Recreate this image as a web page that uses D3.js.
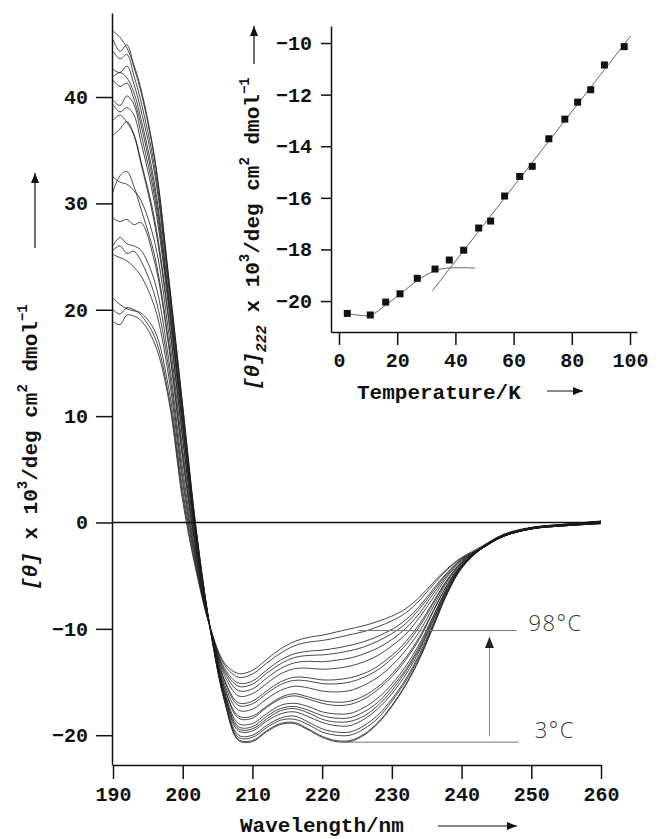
<!DOCTYPE html>
<head>
    <meta charset="utf-8">
    <title>CD spectra vs temperature</title>
    <style>
        body { margin: 0; background: #fff; }
        .axis text { font-family: "Liberation Mono", monospace; font-weight: bold; font-size: 20px; fill: #111; }
        .axis path, .axis line { stroke: #111; stroke-width: 1.5; }
        .label { font-family: "Liberation Mono", monospace; font-weight: bold; font-size: 21px; fill: #111; }
        .temp { font-family: "Open Sans", "Liberation Sans", sans-serif; font-weight: 300; font-size: 22px; fill: #333; letter-spacing: 1.5px; }
    </style>
</head>
<body>

<script src="https://d3js.org/d3.v7.min.js"></script>

<script>

    const width = 660;
    const height = 839;

    // wavelength grid (nm) the spectra were read at
    const wavelengths = [190,191,192,193,194,196,198,200,202,204,206,208,210,212,214,216,218,220,222,224,226,228,230,232,234,236,238,240,243,246,250,255,260];

    // mean residue ellipticity x 10^3, one array per temperature (3 -> 98 C)
    const s01 = [46.2,45.6,44.6,43.0,40.8,34.2,23.0,11.0,-1.0,-10.2,-16.8,-20.5,-20.6,-19.7,-19.0,-18.9,-19.5,-20.2,-20.6,-20.6,-20.0,-18.9,-17.3,-15.3,-12.8,-9.7,-6.6,-4.3,-2.3,-1.2,-0.5,-0.15,0.1];
    const s02 = [45.4,44.3,44.9,42.8,40.5,34.0,22.9,10.9,-1.0,-10.2,-16.8,-20.4,-20.5,-19.6,-18.9,-18.8,-19.4,-20.1,-20.5,-20.5,-19.9,-18.8,-17.2,-15.2,-12.7,-9.7,-6.6,-4.3,-2.4,-1.3,-0.6,-0.3,-0.1];
    const s03 = [44.3,43.6,44.0,42.0,39.6,33.3,22.4,10.5,-1.2,-10.2,-16.6,-20.2,-20.2,-19.3,-18.6,-18.5,-19.0,-19.7,-20.0,-20.0,-19.4,-18.4,-16.8,-14.9,-12.5,-9.5,-6.5,-4.25,-2.3,-1.2,-0.5,-0.2,0.1];
    const s04 = [42.6,42.3,42.9,41.2,38.8,32.7,22.0,10.2,-1.3,-10.2,-16.5,-20.0,-20.0,-19.1,-18.4,-18.2,-18.75,-19.4,-19.7,-19.7,-19.1,-18.1,-16.6,-14.7,-12.3,-9.35,-6.4,-4.2,-2.4,-1.3,-0.6,-0.25,0.0];
    const s05 = [41.9,42.3,41.8,40.4,38.0,31.7,21.3,9.7,-1.55,-10.2,-16.3,-19.6,-19.6,-18.7,-18.0,-17.8,-18.25,-18.8,-19.1,-19.1,-18.5,-17.5,-16.1,-14.3,-12.0,-9.1,-6.3,-4.15,-2.3,-1.2,-0.5,-0.15,0.1];
    const s06 = [41.6,41.0,41.3,39.8,37.4,31.1,20.9,9.4,-1.7,-10.15,-16.2,-19.4,-19.4,-18.5,-17.7,-17.5,-17.9,-18.5,-18.76,-18.7,-18.2,-17.2,-15.8,-14.0,-11.8,-9.0,-6.2,-4.1,-2.4,-1.3,-0.6,-0.3,-0.1];
    const s07 = [39.7,39.2,40.1,39.3,36.6,30.5,20.55,9.1,-1.8,-10.15,-16.0,-19.2,-19.2,-18.25,-17.5,-17.3,-17.65,-18.15,-18.4,-18.35,-17.8,-16.9,-15.5,-13.8,-11.6,-8.8,-6.1,-4.1,-2.3,-1.2,-0.5,-0.2,0.1];
    const s08 = [39.3,38.6,39.0,38.3,35.8,29.85,20.1,8.75,-1.95,-10.15,-15.9,-18.9,-18.9,-18.0,-17.2,-17.0,-17.3,-17.8,-18.0,-17.95,-17.4,-16.5,-15.2,-13.5,-11.35,-8.7,-6.0,-4.05,-2.4,-1.3,-0.6,-0.3,0.0];
    const s09 = [37.8,38.3,37.6,36.5,34.0,28.4,19.2,8.0,-2.3,-10.1,-15.6,-18.4,-18.4,-17.4,-16.6,-16.3,-16.6,-17.0,-17.2,-17.1,-16.6,-15.7,-14.5,-12.9,-10.9,-8.3,-5.8,-4.0,-2.3,-1.2,-0.5,-0.2,0.1];
    const s10 = [36.4,37.0,37.7,36.4,33.8,27.95,18.9,7.8,-2.4,-10.1,-15.5,-18.2,-18.2,-17.3,-16.45,-16.1,-16.4,-16.75,-16.9,-16.8,-16.3,-15.45,-14.25,-12.7,-10.7,-8.2,-5.8,-3.95,-2.4,-1.3,-0.6,-0.3,-0.1];
    const s11 = [32.5,32.0,31.8,31.2,30.3,26.3,17.8,6.9,-2.7,-10.1,-15.2,-17.65,-17.55,-16.6,-15.8,-15.4,-15.55,-15.85,-15.93,-15.8,-15.3,-14.55,-13.45,-12.0,-10.2,-7.85,-5.55,-3.85,-2.3,-1.2,-0.5,-0.2,0.1];
    const s12 = [31.1,32.6,33.0,31.6,29.5,25.0,16.9,6.3,-3.0,-10.1,-14.9,-17.2,-17.05,-16.1,-15.25,-14.85,-14.9,-15.15,-15.17,-15.0,-14.55,-13.85,-12.8,-11.5,-9.75,-7.55,-5.4,-3.8,-2.4,-1.3,-0.6,-0.25,0.0];
    const s13 = [28.6,28.3,28.5,28.0,28.2,24.4,16.5,5.9,-3.15,-10.1,-14.8,-16.95,-16.8,-15.85,-15.0,-14.55,-14.6,-14.8,-14.78,-14.6,-14.2,-13.5,-12.5,-11.2,-9.5,-7.4,-5.3,-3.75,-2.3,-1.2,-0.5,-0.2,0.1];
    const s14 = [26.0,26.8,26.2,26.0,25.6,22.6,15.3,5.0,-3.5,-10.05,-14.4,-16.3,-16.1,-15.15,-14.25,-13.75,-13.7,-13.8,-13.71,-13.5,-13.1,-12.5,-11.6,-10.5,-8.9,-7.0,-5.05,-3.65,-2.4,-1.3,-0.6,-0.3,-0.1];
    const s15 = [25.6,26.0,25.3,25.5,24.6,21.3,14.5,4.3,-3.8,-10.05,-14.1,-15.8,-15.65,-14.65,-13.75,-13.2,-13.05,-13.1,-12.95,-12.75,-12.35,-11.8,-11.0,-9.95,-8.5,-6.65,-4.9,-3.55,-2.3,-1.2,-0.5,-0.2,0.1];
    const s16 = [25.2,24.9,24.6,24.0,23.2,20.2,13.7,3.75,-4.05,-10.05,-13.9,-15.4,-15.2,-14.2,-13.3,-12.7,-12.5,-12.45,-12.3,-12.05,-11.7,-11.15,-10.45,-9.5,-8.1,-6.4,-4.75,-3.5,-2.4,-1.3,-0.6,-0.25,0.0];
    const s17 = [21.1,20.5,20.1,19.9,19.7,18.0,12.6,3.0,-4.25,-10.0,-13.7,-15.1,-14.9,-13.9,-12.95,-12.35,-12.1,-12.0,-11.81,-11.55,-11.2,-10.7,-10.05,-9.15,-7.85,-6.2,-4.65,-3.45,-2.3,-1.2,-0.5,-0.2,0.1];
    const s18 = [20.0,19.6,20.2,20.0,19.5,17.4,11.9,2.5,-4.6,-10.0,-13.4,-14.55,-14.25,-13.25,-12.3,-11.6,-11.25,-11.1,-10.85,-10.55,-10.25,-9.8,-9.25,-8.5,-7.3,-5.8,-4.4,-3.35,-2.4,-1.3,-0.6,-0.3,-0.1];
    const s19 = [18.9,18.6,19.5,19.4,19.0,16.8,11.5,2.0,-4.8,-10.0,-13.2,-14.2,-13.9,-12.9,-11.9,-11.2,-10.8,-10.6,-10.3,-10.0,-9.7,-9.3,-8.8,-8.1,-7.0,-5.6,-4.3,-3.3,-2.2,-1.1,-0.45,-0.15,0.15];
    const spectra = [s01,s02,s03,s04,s05,s06,s07,s08,s09,s10,s11,s12,s13,s14,s15,s16,s17,s18,s19];

    // inset: ellipticity at 222 nm vs temperature
    const temperature = [2.85,10.76,16.05,20.96,26.9,33.0,37.9,42.85,48.0,52.1,56.9,62.1,66.4,72.1,77.6,82.0,86.5,91.2,98.0];
    const theta222 = [-20.48,-20.54,-20.04,-19.72,-19.12,-18.76,-18.41,-18.03,-17.17,-16.9,-15.93,-15.17,-14.78,-13.71,-12.95,-12.29,-11.81,-10.85,-10.14];

    // fitted guide lines in the inset (T, theta)
    const fitLowT = [3.8,10.7,16,21,27,33,38,46.7];
    const fitLowV = [-20.5,-20.55,-20.16,-19.73,-19.2,-18.82,-18.72,-18.72];
    const fitHighT = [32.1,100.2];
    const fitHighV = [-19.6,-9.73];

    const mainXTicks = [190,200,210,220,230,240,250,260];
    const mainYTicks = [-20,-10,0,10,20,30,40];
    const insetXTicks = [0,20,40,60,80,100];
    const insetYTicks = [-20,-18,-16,-14,-12,-10];

    // temperature markers on the main plot
    const highLabel = '98°C', highValue = -10.16;
    const lowLabel = '3°C', lowValue = -20.65;

    const svg = d3.select('body').append('svg')
        .attr('width', width)
        .attr('height', height);

    const defs = svg.append('defs');
    defs.append('marker')
        .attr('id', 'head')
        .attr('viewBox', '0 0 10 8')
        .attr('refX', 10).attr('refY', 4)
        .attr('markerWidth', 10).attr('markerHeight', 8)
        .attr('markerUnits', 'userSpaceOnUse')
        .attr('orient', 'auto')
        .append('path').attr('d', 'M0,0L10,4L0,8Z').attr('fill', '#111');
    defs.append('marker')
        .attr('id', 'headGray')
        .attr('viewBox', '0 0 10 8')
        .attr('refX', 10).attr('refY', 4)
        .attr('markerWidth', 12).attr('markerHeight', 9)
        .attr('markerUnits', 'userSpaceOnUse')
        .attr('orient', 'auto')
        .append('path').attr('d', 'M0,0L10,4L0,8Z').attr('fill', '#222');

    // ---- main chart
    const x = d3.scaleLinear().domain([190, 260]).range([113, 601]);
    const y = d3.scaleLinear().domain([-22.8, 47.9]).range([765, 13]);

    const line = d3.line()
        .x((d, i) => x(wavelengths[i]))
        .y(d => y(d))
        .curve(d3.curveCatmullRom.alpha(0.5));

    svg.append('g').selectAll('path')
        .data(spectra)
        .enter().append('path')
        .attr('d', line)
        .attr('fill', 'none')
        .attr('stroke', '#1b1b1b')
        .attr('stroke-width', 0.8);

    // zero line
    svg.append('line')
        .attr('x1', 112).attr('x2', x(260))
        .attr('y1', y(0)).attr('y2', y(0))
        .attr('stroke', '#111').attr('stroke-width', 1.6);

    svg.append('g')
        .attr('class', 'axis')
        .attr('transform', 'translate(0,765)')
        .call(d3.axisBottom(x).tickValues(mainXTicks).tickSize(14).tickSizeOuter(0).tickPadding(8));

    svg.append('g')
        .attr('class', 'axis')
        .attr('transform', 'translate(112,0)')
        .call(d3.axisLeft(y).tickValues(mainYTicks).tickSize(16).tickSizeOuter(0).tickPadding(8)
            .tickFormat(d => d < 0 ? '\u2212' + Math.abs(d) : d));

    svg.selectAll('.axis path.domain').attr('stroke-width', 1.5);

    // 3 C / 98 C markers
    svg.append('line')
        .attr('x1', x(225.2)).attr('x2', x(247.9))
        .attr('y1', y(highValue)).attr('y2', y(highValue))
        .attr('stroke', '#777').attr('stroke-width', 1);
    svg.append('line')
        .attr('x1', x(223.0)).attr('x2', x(248.2))
        .attr('y1', y(lowValue)).attr('y2', y(lowValue))
        .attr('stroke', '#777').attr('stroke-width', 1);
    svg.append('line')
        .attr('x1', x(244)).attr('x2', x(244))
        .attr('y1', y(-20.1)).attr('y2', y(-10.75))
        .attr('stroke', '#888').attr('stroke-width', 1)
        .attr('marker-end', 'url(#headGray)');
    svg.append('text').attr('class', 'temp')
        .attr('x', x(249.6)).attr('y', y(highValue))
        .text(highLabel);
    svg.append('text').attr('class', 'temp')
        .attr('x', x(250.5)).attr('y', y(-20.3))
        .text(lowLabel);

    // axis titles
    svg.append('text').attr('class', 'label')
        .attr('x', 240).attr('y', 832)
        .text('Wavelength/nm');
    svg.append('line')
        .attr('x1', 438).attr('x2', 517).attr('y1', 826).attr('y2', 826)
        .attr('stroke', '#111').attr('stroke-width', 1.2)
        .attr('marker-end', 'url(#head)');

    const yl = svg.append('text').attr('class', 'label')
        .attr('transform', 'translate(37,590) rotate(-90)');
    yl.append('tspan').attr('font-style', 'italic').text('[θ]');
    yl.append('tspan').text(' x 10');
    yl.append('tspan').attr('dy', -10).attr('font-size', 14).text('3');
    yl.append('tspan').attr('dy', 10).text('/deg cm');
    yl.append('tspan').attr('dy', -10).attr('font-size', 14).text('2');
    yl.append('tspan').attr('dy', 10).text(' dmol');
    yl.append('tspan').attr('dy', -10).attr('font-size', 14).text('\u22121');
    svg.append('line')
        .attr('x1', 35).attr('x2', 35).attr('y1', 248).attr('y2', 173)
        .attr('stroke', '#111').attr('stroke-width', 1.2)
        .attr('marker-end', 'url(#head)');

    // ---- inset
    const x2 = d3.scaleLinear().domain([-2.75, 102.4]).range([331, 637]);
    const y2 = d3.scaleLinear().domain([-21.2, -9.34]).range([332, 26]);

    const fitLine = d3.line()
        .x(d => x2(d[0]))
        .y(d => y2(d[1]))
        .curve(d3.curveCatmullRom.alpha(0.5));

    svg.append('path')
        .attr('d', fitLine(fitLowT.map((t, i) => [t, fitLowV[i]])))
        .attr('fill', 'none').attr('stroke', '#555').attr('stroke-width', 0.9);
    svg.append('path')
        .attr('d', fitLine(fitHighT.map((t, i) => [t, fitHighV[i]])))
        .attr('fill', 'none').attr('stroke', '#555').attr('stroke-width', 0.9);

    svg.append('g').selectAll('rect')
        .data(temperature)
        .enter().append('rect')
        .attr('x', d => x2(d) - 3.5)
        .attr('y', (d, i) => y2(theta222[i]) - 3.5)
        .attr('width', 7).attr('height', 7)
        .attr('fill', '#111');

    svg.append('g')
        .attr('class', 'axis')
        .attr('transform', 'translate(0,332)')
        .call(d3.axisBottom(x2).tickValues(insetXTicks).tickSize(13).tickSizeOuter(0).tickPadding(8));

    svg.append('g')
        .attr('class', 'axis')
        .attr('transform', 'translate(331,0)')
        .call(d3.axisLeft(y2).tickValues(insetYTicks).tickSize(10).tickSizeOuter(0).tickPadding(9)
            .tickFormat(d => '\u2212' + Math.abs(d)));

    svg.append('text').attr('class', 'label')
        .attr('x', 357).attr('y', 399)
        .text('Temperature/K');
    svg.append('line')
        .attr('x1', 547).attr('x2', 583).attr('y1', 391).attr('y2', 391)
        .attr('stroke', '#111').attr('stroke-width', 1.2)
        .attr('marker-end', 'url(#head)');

    const yl2 = svg.append('text').attr('class', 'label')
        .attr('transform', 'translate(259,390) rotate(-90)');
    yl2.append('tspan').attr('font-style', 'italic').text('[θ]');
    yl2.append('tspan').attr('dy', 7).attr('font-size', 15).attr('font-style', 'italic').text('222');
    yl2.append('tspan').attr('dy', -7).text(' x 10');
    yl2.append('tspan').attr('dy', -10).attr('font-size', 14).text('3');
    yl2.append('tspan').attr('dy', 10).text('/deg cm');
    yl2.append('tspan').attr('dy', -10).attr('font-size', 14).text('2');
    yl2.append('tspan').attr('dy', 10).text(' dmol');
    yl2.append('tspan').attr('dy', -10).attr('font-size', 14).text('\u22121');
    svg.append('line')
        .attr('x1', 254).attr('x2', 254).attr('y1', 64).attr('y2', 26)
        .attr('stroke', '#111').attr('stroke-width', 1.2)
        .attr('marker-end', 'url(#head)');

</script>

</body>
